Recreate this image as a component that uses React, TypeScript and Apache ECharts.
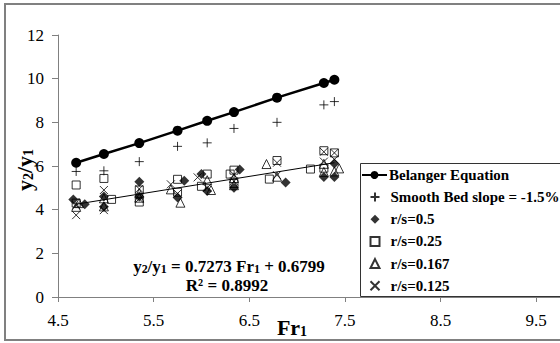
import React, { useEffect, useRef } from "react";
import * as echarts from "echarts";

const FONT = "serif";

// Belanger equation (Fr1, y2/y1)
const belangerFr = [4.69, 4.98, 5.35, 5.75, 6.06, 6.34, 6.79, 7.28, 7.39];
const belangerY = [6.15, 6.55, 7.05, 7.62, 8.07, 8.47, 9.13, 9.8, 9.95];

// Smooth bed slope = -1.5%
const smoothFr = [4.69, 4.98, 5.35, 5.75, 6.06, 6.34, 6.79, 7.28, 7.39];
const smoothY = [5.75, 5.78, 6.2, 6.9, 7.06, 7.72, 8.0, 8.8, 8.95];

// r/s = 0.5 (diamonds)
const rs05: [number, number][] = [
  [4.66, 4.47], [4.78, 4.25], [4.98, 4.13], [4.98, 4.6], [5.35, 5.28], [5.35, 4.6],
  [5.82, 5.32], [5.75, 4.56], [6.0, 5.63], [6.06, 4.85], [6.4, 5.84], [6.34, 5.0],
  [6.88, 5.25], [7.28, 5.5], [7.39, 6.12], [7.39, 5.5],
];
// r/s = 0.25 (squares)
const rs025: [number, number][] = [
  [4.69, 5.13], [4.69, 4.3], [4.98, 5.43], [5.06, 4.47], [5.35, 4.9], [5.35, 4.35],
  [5.75, 5.39], [5.75, 4.8], [6.06, 5.63], [6.0, 5.07], [6.3, 5.63], [6.34, 5.81],
  [6.34, 5.2], [6.71, 5.4], [6.79, 6.25], [7.14, 5.86], [7.28, 6.7], [7.28, 5.9], [7.39, 6.6],
];
// r/s = 0.167 (triangles)
const rs0167: [number, number][] = [
  [4.69, 4.13], [4.72, 4.3], [4.98, 4.52], [4.98, 4.15], [5.35, 4.55], [5.35, 4.75],
  [5.68, 4.93], [5.78, 4.32], [6.06, 5.35], [6.1, 4.9], [6.34, 5.12], [6.34, 5.45],
  [6.68, 6.09], [6.79, 5.51], [7.28, 5.73], [7.28, 6.1], [7.44, 5.89], [7.39, 5.75],
];
// r/s = 0.125 (crosses)
const rs0125: [number, number][] = [
  [4.69, 3.75], [4.69, 4.2], [4.98, 4.9], [4.98, 3.98], [5.35, 4.5], [5.35, 4.95],
  [5.68, 5.16], [5.75, 4.74], [5.96, 5.48], [6.06, 5.0], [6.34, 5.6], [6.34, 5.3],
  [6.79, 6.15], [6.79, 5.58], [7.28, 6.65], [7.28, 6.2], [7.39, 6.6], [7.39, 6.3],
];

// Linear trend line end points
const trendFr = [4.69, 7.39];
const trendY = [4.25, 6.15];

const seriesNames = [
  "Belanger Equation",
  "Smooth Bed slope = -1.5%",
  "r/s=0.5",
  "r/s=0.25",
  "r/s=0.167",
  "r/s=0.125",
];

const PLUS = "path://M5,0L5,10M0,5L10,5";
const CROSS = "path://M0,0L10,10M10,0L0,10";

export default function App() {
  const ref = useRef<HTMLDivElement>(null);
  useEffect(() => {
    document.body.style.margin = "0";
    if (!ref.current) return;
    const chart = echarts.init(ref.current, undefined, { renderer: "svg" });
    const zip = (a: number[], b: number[]) => a.map((v, i) => [v, b[i]]);
    const hollow = { color: "transparent", borderColor: "#000", borderWidth: 1 };
    const legendText = { fontFamily: FONT, fontSize: 15, fontWeight: "bold", color: "#000", lineHeight: 16 };
    chart.setOption({
      animation: false,
      backgroundColor: "#fff",
      textStyle: { fontFamily: FONT },
      grid: { left: 58, top: 35, bottom: 46, right: -24, outerBoundsMode: "none", containLabel: false },
      xAxis: {
        type: "value",
        min: 4.5,
        max: 10,
        interval: 1,
        splitLine: { show: false },
        axisLine: { lineStyle: { color: "#808080", width: 1 } },
        axisTick: { show: true, length: 5, lineStyle: { color: "#808080" } },
        axisLabel: { color: "#000", fontSize: 17, fontFamily: FONT, margin: 15, showMaxLabel: false, formatter: (v: number) => v.toFixed(1) },
      },
      yAxis: {
        type: "value",
        min: 0,
        max: 12,
        interval: 2,
        splitLine: { show: false },
        axisLine: { show: true, lineStyle: { color: "#808080", width: 1 } },
        axisTick: { show: true, length: 6, lineStyle: { color: "#808080" } },
        axisLabel: { color: "#000", fontSize: 17, fontFamily: FONT, margin: 14 },
      },
      legend: [
        {
          orient: "vertical",
          left: 361,
          top: 167,
          data: [seriesNames[0]],
          padding: 0,
          itemWidth: 25,
          itemHeight: 10,
          textStyle: { ...legendText, padding: [0, 0, 0, -3] },
        },
        {
          orient: "vertical",
          left: 368,
          top: 189,
          data: seriesNames.slice(1),
          padding: 0,
          itemGap: 6.2,
          itemWidth: 9,
          itemHeight: 9,
          textStyle: { ...legendText, padding: [0, 0, 0, 6] },
        },
      ],
      series: [
        {
          name: "trend",
          type: "line",
          data: zip(trendFr, trendY),
          symbol: "none",
          lineStyle: { color: "#000", width: 1 },
          z: 1,
        },
        {
          name: seriesNames[0],
          type: "line",
          data: zip(belangerFr, belangerY),
          symbol: "circle",
          symbolSize: 10,
          itemStyle: { color: "#000" },
          lineStyle: { color: "#000", width: 2.5 },
          z: 5,
        },
        {
          name: seriesNames[1],
          type: "scatter",
          data: zip(smoothFr, smoothY),
          symbol: PLUS,
          symbolSize: 9,
          itemStyle: { color: "none", borderColor: "#000", borderWidth: 1 },
        },
        {
          name: seriesNames[2],
          type: "scatter",
          data: rs05,
          symbol: "diamond",
          symbolSize: 10,
          itemStyle: { color: "#000" },
        },
        {
          name: seriesNames[3],
          type: "scatter",
          data: rs025,
          symbol: "rect",
          symbolSize: 8,
          itemStyle: hollow,
        },
        {
          name: seriesNames[4],
          type: "scatter",
          data: rs0167,
          symbol: "triangle",
          symbolSize: 9,
          itemStyle: hollow,
        },
        {
          name: seriesNames[5],
          type: "scatter",
          data: rs0125,
          symbol: CROSS,
          symbolSize: 8,
          itemStyle: { color: "none", borderColor: "#000", borderWidth: 1 },
        },
      ],
      graphic: [
        {
          type: "rect",
          silent: true,
          shape: { x: 360.5, y: 163.5, width: 300, height: 133 },
          style: { fill: "none", stroke: "#333", lineWidth: 1 },
          z: 90,
        },
        {
          type: "rect",
          silent: true,
          shape: { x: 5, y: 4, width: 600, height: 336 },
          style: { fill: "none", stroke: "#808080", lineWidth: 2 },
          z: 100,
        },
        {
          type: "text",
          x: 24,
          y: 170,
          rotation: Math.PI / 2,
          style: {
            text: "{a|y}{s|2}{a|/y}{s|1}",
            align: "center",
            verticalAlign: "middle",
            rich: {
              a: { fontFamily: FONT, fontSize: 22, fontWeight: "bold", fill: "#000" },
              s: { fontFamily: FONT, fontSize: 14, fontWeight: "bold", fill: "#000", verticalAlign: "bottom", padding: [8, 0, 0, 0] },
            },
          },
        },
        {
          type: "text",
          x: 292,
          y: 327,
          style: {
            text: "{a|Fr}{s|1}",
            align: "center",
            verticalAlign: "middle",
            rich: {
              a: { fontFamily: FONT, fontSize: 22, fontWeight: "bold", fill: "#000" },
              s: { fontFamily: FONT, fontSize: 14, fontWeight: "bold", fill: "#000", verticalAlign: "bottom", padding: [8, 0, 0, 0] },
            },
          },
        },
        {
          type: "text",
          x: 229,
          y: 266,
          style: {
            text: "{a|y}{s|2}{a|/y}{s|1}{a| = 0.7273 Fr}{s|1}{a| + 0.6799}",
            align: "center",
            verticalAlign: "middle",
            rich: {
              a: { fontFamily: FONT, fontSize: 17, fontWeight: "bold", fill: "#000" },
              s: { fontFamily: FONT, fontSize: 12, fontWeight: "bold", fill: "#000", verticalAlign: "bottom", padding: [5, 0, 0, 0] },
            },
          },
        },
        {
          type: "text",
          x: 227,
          y: 285,
          style: {
            text: "R² = 0.8992",
            align: "center",
            verticalAlign: "middle",
            fontFamily: FONT,
            fontSize: 17,
            fontWeight: "bold",
            fill: "#000",
          },
        },
      ],
    });
    return () => chart.dispose();
  }, []);
  return <div ref={ref} style={{ width: 560, height: 343 }} />;
}
